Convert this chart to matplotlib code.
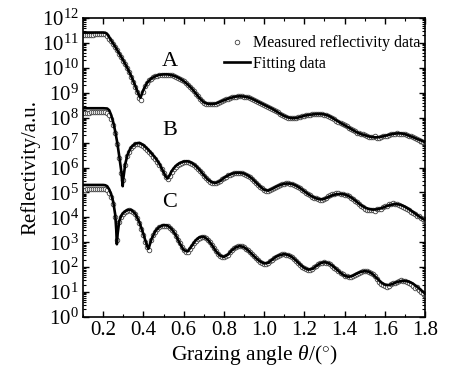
import numpy as np
import matplotlib
matplotlib.use("Agg")
import matplotlib.pyplot as plt
from matplotlib.ticker import LogLocator, MultipleLocator, NullFormatter

plt.rcParams["font.family"] = "Liberation Serif"
plt.rcParams["mathtext.fontset"] = "custom"
plt.rcParams["mathtext.rm"] = "Liberation Serif"
plt.rcParams["mathtext.it"] = "Liberation Serif:italic"

# measured data, one point every 0.01 deg (log10 of reflectivity)
theta_meas = np.round(np.arange(0.10, 1.801, 0.01), 2)

meas_A = [
    11.32, 11.33, 11.33, 11.34, 11.34, 11.34, 11.35, 11.35, 11.35, 11.36,
    11.36, 11.35, 11.30, 11.18, 11.06, 10.95, 10.83, 10.70, 10.57, 10.43,
    10.29, 10.15, 9.99, 9.83, 9.65, 9.45, 9.25, 9.03, 8.78, 8.72,
    9.05, 9.27, 9.40, 9.50, 9.57, 9.62, 9.66, 9.69, 9.71, 9.72,
    9.73, 9.73, 9.73, 9.72, 9.70, 9.68, 9.65, 9.61, 9.57, 9.52,
    9.46, 9.40, 9.33, 9.25, 9.17, 9.07, 8.97, 8.87, 8.77, 8.68,
    8.61, 8.57, 8.55, 8.54, 8.54, 8.55, 8.57, 8.60, 8.64, 8.68,
    8.71, 8.74, 8.77, 8.80, 8.82, 8.84, 8.85, 8.86, 8.86, 8.86,
    8.85, 8.84, 8.82, 8.79, 8.76, 8.72, 8.68, 8.64, 8.60, 8.56,
    8.52, 8.48, 8.44, 8.40, 8.36, 8.31, 8.26, 8.21, 8.16, 8.11,
    8.07, 8.03, 8.00, 7.98, 7.97, 7.98, 7.99, 8.01, 8.04, 8.06,
    8.08, 8.10, 8.11, 8.12, 8.13, 8.14, 8.15, 8.15, 8.15, 8.14,
    8.12, 8.10, 8.07, 8.03, 7.98, 7.93, 7.88, 7.83, 7.78, 7.73,
    7.69, 7.65, 7.60, 7.55, 7.50, 7.45, 7.40, 7.37, 7.35, 7.33,
    7.30, 7.28, 7.24, 7.22, 7.21, 7.25, 7.20, 7.18, 7.22, 7.26,
    7.28, 7.25, 7.30, 7.33, 7.36, 7.35, 7.37, 7.33, 7.36, 7.35,
    7.33, 7.30, 7.27, 7.28, 7.24, 7.20, 7.14, 7.10, 7.08, 7.04,
    7.00,
]

meas_B = [
    8.17, 8.19, 8.20, 8.20, 8.21, 8.21, 8.22, 8.22, 8.22, 8.23,
    8.23, 8.22, 8.18, 8.10, 7.95, 7.72, 7.40, 6.95, 6.40, 5.80,
    5.50, 6.10, 6.45, 6.64, 6.78, 6.88, 6.93, 6.95, 6.95, 6.92,
    6.87, 6.80, 6.72, 6.63, 6.54, 6.44, 6.34, 6.23, 6.10, 5.95,
    5.78, 5.62, 5.55, 5.67, 5.83, 5.95, 6.04, 6.11, 6.16, 6.20,
    6.22, 6.23, 6.22, 6.20, 6.16, 6.11, 6.04, 5.96, 5.87, 5.77,
    5.67, 5.58, 5.50, 5.43, 5.39, 5.37, 5.37, 5.40, 5.45, 5.52,
    5.58, 5.63, 5.68, 5.72, 5.75, 5.77, 5.79, 5.79, 5.79, 5.78,
    5.76, 5.72, 5.67, 5.61, 5.55, 5.47, 5.39, 5.31, 5.23, 5.16,
    5.10, 5.06, 5.06, 5.09, 5.14, 5.19, 5.23, 5.27, 5.30, 5.33,
    5.35, 5.36, 5.36, 5.35, 5.33, 5.30, 5.26, 5.22, 5.17, 5.11,
    5.05, 4.99, 4.93, 4.88, 4.83, 4.79, 4.76, 4.73, 4.71, 4.70,
    4.73, 4.79, 4.85, 4.90, 4.93, 4.95, 4.96, 4.96, 4.95, 4.94,
    4.91, 4.88, 4.84, 4.79, 4.74, 4.67, 4.60, 4.52, 4.46, 4.40,
    4.35, 4.30, 4.28, 4.31, 4.29, 4.27, 4.33, 4.35, 4.34, 4.40,
    4.44, 4.47, 4.52, 4.55, 4.56, 4.55, 4.52, 4.50, 4.47, 4.42,
    4.38, 4.34, 4.28, 4.22, 4.18, 4.12, 4.07, 4.05, 3.98, 3.92,
    3.80,
]

meas_C = [
    5.09, 5.11, 5.12, 5.12, 5.13, 5.13, 5.14, 5.14, 5.14, 5.14,
    5.14, 5.13, 5.08, 4.98, 4.80, 4.55, 4.02, 3.10, 3.80, 4.02,
    4.14, 4.22, 4.27, 4.28, 4.27, 4.22, 4.12, 3.97, 3.78, 3.55,
    3.30, 3.03, 2.80, 2.70, 3.08, 3.28, 3.43, 3.53, 3.60, 3.64,
    3.66, 3.66, 3.64, 3.59, 3.51, 3.40, 3.27, 3.11, 2.95, 2.79,
    2.67, 2.61, 2.62, 2.71, 2.84, 2.96, 3.06, 3.14, 3.19, 3.21,
    3.20, 3.16, 3.09, 3.00, 2.89, 2.76, 2.64, 2.53, 2.46, 2.42,
    2.41, 2.43, 2.50, 2.59, 2.68, 2.75, 2.80, 2.83, 2.84, 2.83,
    2.79, 2.74, 2.67, 2.59, 2.51, 2.43, 2.35, 2.28, 2.22, 2.17,
    2.14, 2.13, 2.16, 2.23, 2.30, 2.36, 2.42, 2.46, 2.49, 2.51,
    2.51, 2.50, 2.48, 2.44, 2.39, 2.33, 2.25, 2.17, 2.09, 2.02,
    1.96, 1.91, 1.89, 1.90, 1.93, 1.99, 2.05, 2.11, 2.15, 2.18,
    2.19, 2.18, 2.15, 2.11, 2.05, 1.98, 1.91, 1.84, 1.77, 1.71,
    1.66, 1.63, 1.61, 1.62, 1.65, 1.70, 1.74, 1.78, 1.81, 1.83,
    1.84, 1.83, 1.81, 1.77, 1.71, 1.63, 1.52, 1.40, 1.33, 1.30,
    1.26, 1.22, 1.25, 1.32, 1.36, 1.38, 1.42, 1.45, 1.47, 1.46,
    1.44, 1.40, 1.38, 1.32, 1.25, 1.18, 1.20, 1.10, 1.02, 0.95,
    0.86,
]

# fitted curves (log10 of reflectivity)
fit_A_theta = [0.10, 0.15, 0.20, 0.21, 0.22, 0.23, 0.24,
               0.26, 0.28, 0.30, 0.32, 0.34, 0.36,
               0.37, 0.38, 0.385, 0.39, 0.40] + \
    list(np.round(np.arange(0.42, 1.801, 0.02), 2))
fit_A = [11.42, 11.42, 11.42, 11.41, 11.36, 11.23, 11.10,
         10.85, 10.58, 10.30, 10.00, 9.66, 9.27,
         9.06, 8.86, 8.80, 8.90, 9.12,
         9.42, 9.58, 9.67, 9.72, 9.74, 9.74, 9.71, 9.66, 9.58, 9.47,
         9.34, 9.18, 8.98, 8.78, 8.62, 8.56, 8.55, 8.57, 8.63, 8.70,
         8.76, 8.81, 8.85, 8.86, 8.85, 8.82, 8.76, 8.68, 8.60, 8.52,
         8.44, 8.36, 8.26, 8.16, 8.07, 8.01, 7.98, 7.99, 8.03, 8.08,
         8.11, 8.13, 8.15, 8.15, 8.13, 8.08, 7.99, 7.89, 7.79, 7.70,
         7.61, 7.51, 7.42, 7.35, 7.30, 7.25, 7.22, 7.21, 7.23, 7.27,
         7.31, 7.35, 7.37, 7.37, 7.34, 7.28, 7.22, 7.15, 7.09, 7.02]

fit_B_theta = [0.10, 0.15, 0.20, 0.22, 0.23, 0.24, 0.25, 0.26, 0.27, 0.28,
               0.29, 0.297, 0.30, 0.31, 0.32, 0.33, 0.34, 0.36, 0.38, 0.40,
               0.42, 0.44, 0.46, 0.48, 0.50, 0.51, 0.52, 0.53, 0.54] + \
    list(np.round(np.arange(0.56, 1.801, 0.02), 2))
fit_B = [8.38, 8.38, 8.38, 8.37, 8.30, 8.10, 7.82, 7.45, 7.00, 6.45,
         5.85, 5.25, 5.55, 6.15, 6.48, 6.68, 6.82, 6.96, 6.99, 6.90,
         6.75, 6.57, 6.38, 6.14, 5.82, 5.65, 5.56, 5.68, 5.85,
         6.06, 6.18, 6.24, 6.25, 6.19, 6.07, 5.90, 5.70, 5.52, 5.41,
         5.38, 5.45, 5.58, 5.68, 5.75, 5.79, 5.79, 5.76, 5.68, 5.56,
         5.40, 5.24, 5.11, 5.07, 5.14, 5.23, 5.30, 5.35, 5.36, 5.34,
         5.27, 5.17, 5.05, 4.93, 4.83, 4.76, 4.72, 4.74, 4.82, 4.89,
         4.93, 4.94, 4.92, 4.86, 4.76, 4.63, 4.50, 4.40, 4.34, 4.31,
         4.32, 4.36, 4.42, 4.48, 4.52, 4.53, 4.50, 4.43, 4.33, 4.22,
         4.10, 3.99, 3.89]

fit_C_theta = [0.10, 0.15, 0.20, 0.21, 0.22, 0.23, 0.24, 0.25, 0.26, 0.265,
               0.268, 0.272, 0.28, 0.29, 0.30, 0.32, 0.34, 0.36, 0.38, 0.40,
               0.41, 0.42, 0.425, 0.43, 0.44] + \
    list(np.round(np.arange(0.46, 1.801, 0.02), 2))
fit_C = [5.30, 5.30, 5.30, 5.29, 5.25, 5.12, 4.92, 4.62, 4.10, 3.50,
         2.92, 3.35, 3.85, 4.07, 4.18, 4.30, 4.30, 4.14, 3.80, 3.33,
         3.06, 2.82, 2.74, 2.86, 3.12,
         3.46, 3.62, 3.69, 3.67, 3.54, 3.30, 2.97, 2.69, 2.63, 2.85,
         3.08, 3.21, 3.22, 3.11, 2.90, 2.65, 2.47, 2.41, 2.50, 2.68,
         2.80, 2.85, 2.80, 2.68, 2.52, 2.36, 2.23, 2.15, 2.17, 2.30,
         2.42, 2.49, 2.52, 2.49, 2.40, 2.26, 2.10, 1.97, 1.90, 1.93,
         2.05, 2.16, 2.20, 2.16, 2.06, 1.92, 1.77, 1.66, 1.61, 1.65,
         1.74, 1.81, 1.84, 1.82, 1.72, 1.56, 1.40, 1.30, 1.28, 1.33,
         1.40, 1.44, 1.45, 1.42, 1.34, 1.22, 1.08, 0.94]

curve_labels = ["A", "B", "C"]
curve_label_pos = [(0.53, 10.25), (0.53, 7.5), (0.53, 4.6)]

fig = plt.figure(figsize=(4.49, 3.69), dpi=100)
ax = fig.add_axes([0.185, 0.141, 0.7615, 0.81])

meas_all = [meas_A, meas_B, meas_C]
fit_all = [(fit_A_theta, fit_A), (fit_B_theta, fit_B), (fit_C_theta, fit_C)]

for i in range(3):
    ax.plot(theta_meas, 10 ** np.array(meas_all[i]), ls="none", marker="o",
            ms=3.3, mfc="white", mec="#404040", mew=0.6, zorder=2,
            label="Measured reflectivity data" if i == 0 else None)
    ft, fv = fit_all[i]
    ax.plot(ft, 10 ** np.array(fv), color="black", lw=1.9, zorder=3,
            label="Fitting data" if i == 0 else None)

for lab, (lx, ly) in zip(curve_labels, curve_label_pos):
    ax.text(lx, 10 ** ly, lab, fontsize=16, ha="center", va="center")

ax.set_yscale("log")
ax.set_xlim(0.1, 1.8)
ax.set_ylim(1, 1e12)
ax.xaxis.set_minor_locator(MultipleLocator(0.1))
ax.set_xticks(np.round(np.arange(0.2, 1.81, 0.2), 1))
ax.set_xticklabels([f"{v:.1f}" for v in np.arange(0.2, 1.81, 0.2)])
ax.yaxis.set_minor_locator(LogLocator(base=10, subs=np.arange(2, 10), numticks=20))
ax.yaxis.set_minor_formatter(NullFormatter())
ax.set_yticks([10.0 ** k for k in range(13)])
ax.set_yticklabels([rf"$10^{{{k}}}$" for k in range(13)])

ax.tick_params(which="both", direction="in", top=True, right=True, labelsize=15)
ax.tick_params(which="major", length=4.5, width=1.0, pad=3)
ax.tick_params(which="minor", length=2.2, width=0.8)
for s in ax.spines.values():
    s.set_linewidth(1.2)

ax.set_xlabel(r"Grazing angle $\theta$/($^{\circ}$)", fontsize=15.5, labelpad=2)
ax.set_ylabel("Reflectivity/a.u.", fontsize=15, labelpad=1)

h, l = ax.get_legend_handles_labels()
order = [l.index("Measured reflectivity data"), l.index("Fitting data")]
ax.legend([h[k] for k in order], [l[k] for k in order], loc="upper right",
          bbox_to_anchor=(1.015, 0.975), frameon=False, fontsize=11.5,
          handlelength=1.6, handletextpad=0.2, labelspacing=0.3,
          borderaxespad=0.2)

fig.savefig("out.png", dpi=100)
